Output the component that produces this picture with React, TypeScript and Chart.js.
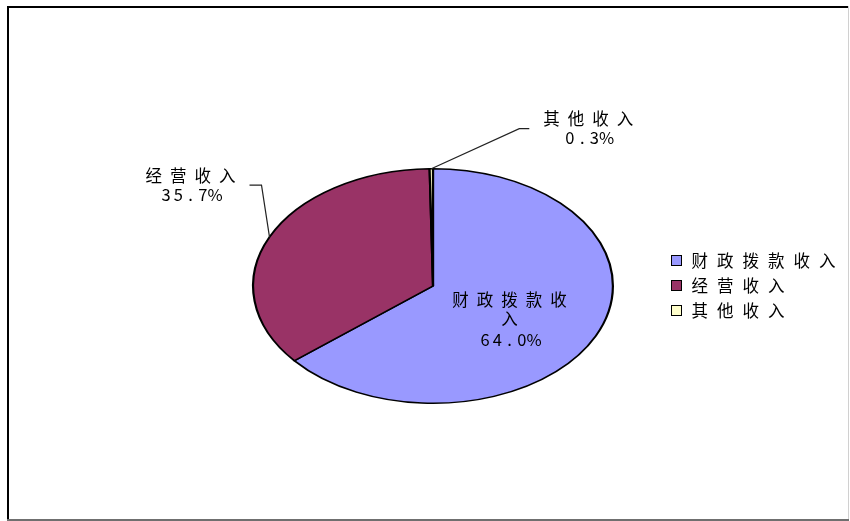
import React, { useEffect, useRef } from "react";
import { Chart, registerables } from "chart.js";

Chart.register(...registerables);

// ---- data ----
const categories: string[] = ["财政拨款收入", "经营收入", "其他收入"];
const shares: number[] = [64.0, 35.7, 0.3];
const sliceColors: string[] = ["#9999FF", "#993366", "#FFFFCC"];

const W = 850;
const H = 521;
const Y_SCALE = 0.652; // pie drawn as an ellipse
const FONT = '16.5px "Noto Sans CJK SC", "Noto Sans", sans-serif';
const TEXT_COLOR = "#000000";

function isWide(ch: string) {
  return ch.charCodeAt(0) > 255;
}
function textWidth(text: string, adv: number) {
  let w = 0;
  for (const ch of text) w += isWide(ch) ? adv : adv / 2;
  return w;
}
// SimSun-like fixed-cell text: CJK full cell, ASCII half cell
function drawCells(ctx: CanvasRenderingContext2D, text: string, left: number, cy: number, adv: number) {
  let x = left;
  ctx.textAlign = "center";
  ctx.textBaseline = "middle";
  for (const ch of text) {
    const cw = isWide(ch) ? adv : adv / 2;
    ctx.fillText(ch, x + cw / 2, cy);
    x += cw;
  }
}
function drawCentered(ctx: CanvasRenderingContext2D, text: string, cx: number, cy: number, adv: number) {
  drawCells(ctx, text, cx - textWidth(text, adv) / 2, cy, adv);
}
function wrap(text: string, max: number): string[] {
  const out: string[] = [];
  const chars = Array.from(text);
  for (let i = 0; i < chars.length; i += max) out.push(chars.slice(i, i + max).join(""));
  return out;
}

const framePlugin = {
  id: "frame",
  beforeDraw(chart: any) {
    const ctx: CanvasRenderingContext2D = chart.ctx;
    ctx.save();
    ctx.fillStyle = "#ffffff";
    ctx.fillRect(0, 0, W, H);
    ctx.fillStyle = "#000000";
    ctx.fillRect(7, 6, 842, 2);
    ctx.fillRect(7, 6, 2, 514);
    ctx.fillStyle = "#d0d0d0";
    ctx.fillRect(848, 6, 1, 514);
    ctx.fillStyle = "#6f6f6f";
    ctx.fillRect(7, 519, 842, 2);
    ctx.restore();
  },
};

const ellipsePlugin = {
  id: "ellipse",
  beforeDatasetsDraw(chart: any) {
    const ctx: CanvasRenderingContext2D = chart.ctx;
    const arc = chart.getDatasetMeta(0).data[0];
    ctx.save();
    ctx.translate(arc.x, arc.y);
    ctx.scale(1, Y_SCALE);
    ctx.translate(-arc.x, -arc.y);
  },
  afterDatasetsDraw(chart: any) {
    const ctx: CanvasRenderingContext2D = chart.ctx;
    ctx.restore();

    const meta = chart.getDatasetMeta(0);
    const values: number[] = chart.data.datasets[0].data;
    const labels: string[] = chart.data.labels;
    const ADV = 24.5;
    const LH = 19;

    ctx.save();
    ctx.font = FONT;
    ctx.fillStyle = TEXT_COLOR;
    ctx.strokeStyle = "#222";
    ctx.lineWidth = 1.2;

    meta.data.forEach((el: any, i: number) => {
      const { x, y, startAngle, endAngle, outerRadius } = el;
      const mid = (startAngle + endAngle) / 2;
      const pct = values[i].toFixed(1) + "%";
      const lines = [...wrap(labels[i], 5), pct];
      const ex = x + outerRadius * Math.cos(mid);
      const ey = y + outerRadius * Math.sin(mid) * Y_SCALE;

      if (values[i] > 50) {
        // inside label
        const k = 0.47;
        const bx = x + outerRadius * k * Math.cos(mid);
        const by = y + outerRadius * k * Math.sin(mid) * Y_SCALE + 9;
        const top = by - ((lines.length - 1) * LH) / 2;
        lines.forEach((ln, j) => drawCentered(ctx, ln, bx, top + j * LH + (j === lines.length - 1 ? 2 : 0), ADV));
        return;
      }
      // outside label with elbow leader line
      const right = Math.cos(mid) > 0 || Math.abs(Math.cos(mid)) < 0.05;
      const dir = right ? 1 : -1;
      const elbowX = right ? ex + 88 : ex - 8;
      const elbowY = right ? ey - 40 : ey - 52;
      const endX = elbowX + dir * (right ? 10 : 12);
      ctx.beginPath();
      ctx.moveTo(ex, ey);
      ctx.lineTo(elbowX, elbowY);
      ctx.lineTo(endX, elbowY);
      ctx.stroke();
      const maxW = Math.max(...lines.map((l) => textWidth(l, ADV)));
      const bx = endX + dir * (10 + maxW / 2);
      const top = elbowY - ((lines.length - 1) * LH) / 2;
      lines.forEach((ln, j) => drawCentered(ctx, ln, bx, top + j * LH, ADV));
    });

    // legend
    const LX = 671;
    const LY = 260.5;
    const LS = 25;
    ctx.lineWidth = 1;
    labels.forEach((lab, i) => {
      const cy = LY + i * LS;
      ctx.fillStyle = sliceColors[i];
      ctx.fillRect(LX, cy - 5.5, 11, 11);
      ctx.strokeStyle = "#000";
      ctx.strokeRect(LX + 0.5, cy - 5.5 + 0.5, 10, 10);
      ctx.fillStyle = TEXT_COLOR;
      drawCells(ctx, lab, 687, cy, 25.5);
    });
    ctx.restore();
  },
};

export default function App() {
  const ref = useRef<HTMLCanvasElement | null>(null);
  useEffect(() => {
    if (!ref.current) return;
    const chart = new Chart(ref.current, {
      type: "pie",
      data: {
        labels: categories,
        datasets: [
          {
            data: shares,
            backgroundColor: sliceColors,
            borderColor: "#000000",
            borderWidth: 2.2,
            hoverOffset: 0,
          },
        ],
      },
      options: {
        responsive: false,
        animation: false,
        events: [],
        layout: { padding: { left: 252, right: 236, top: 105, bottom: 54 } },
        plugins: {
          legend: { display: false },
          tooltip: { enabled: false },
          title: { display: false },
        },
      },
      plugins: [framePlugin, ellipsePlugin],
    });
    return () => chart.destroy();
  }, []);
  return (
    <div style={{ position: "fixed", left: 0, top: 0, width: W, height: H }}>
      <canvas ref={ref} width={W} height={H} style={{ display: "block" }} />
    </div>
  );
}
